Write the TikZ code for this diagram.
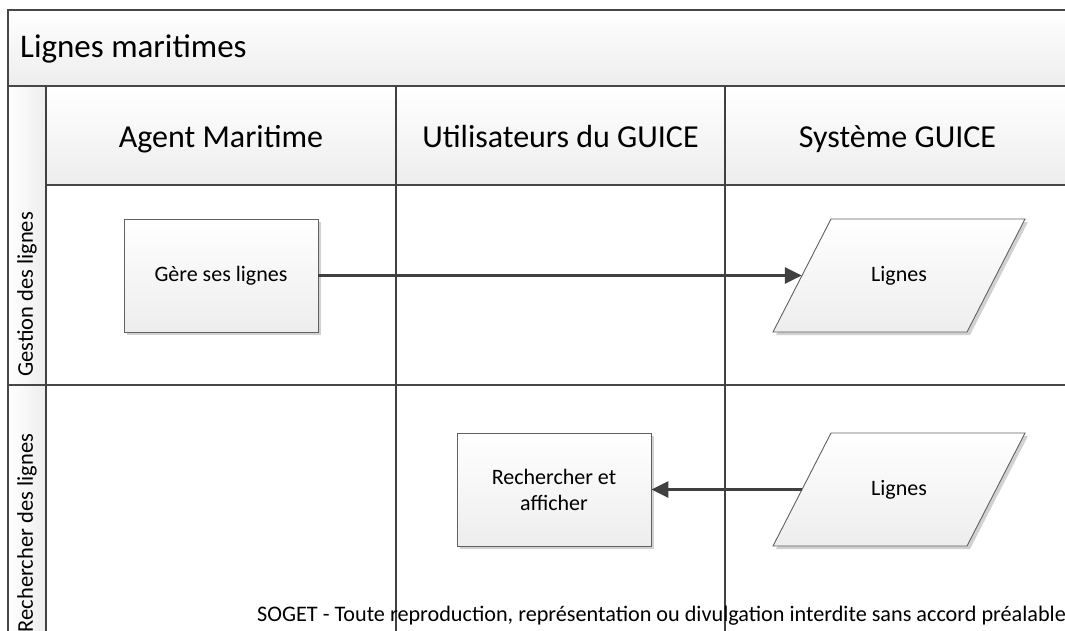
\documentclass[tikz,border=0pt]{standalone}
\usepackage{fontspec}
\setmainfont{Carlito}
\usetikzlibrary{shadows,arrows.meta}
\begin{document}
\begin{tikzpicture}[x=1pt,y=-1pt,
  frameline/.style={draw=black!72,line width=1.6pt},
  laneline/.style={draw=black!75,line width=1.8pt},
  barfill/.style={top color=white,bottom color=black!7},
  sidefill/.style={left color=white,right color=black!7},
  shade/.style={drop shadow={shadow xshift=3pt,shadow yshift=-3pt,fill=black!18,opacity=1}},
  shapeface/.style={draw=black!62,line width=0.9pt,top color=white,bottom color=black!7,shade},
  procbox/.style={rectangle,shapeface,
    minimum width=194pt,minimum height=113pt,inner sep=2pt,align=center,
    font=\fontsize{22}{26}\selectfont},
  % body of a data shape: the slanted outline is drawn around it
  databody/.style={rectangle,minimum width=194pt,minimum height=113pt,inner sep=0pt,
    font=\fontsize{22}{26}\selectfont},
  flow/.style={draw=black!75,line width=2.6pt,-{Triangle[length=17pt,width=16pt]}},
  lanelabel/.style={rotate=90,font=\fontsize{22.5}{27}\selectfont},
  colhead/.style={font=\fontsize{32}{38}\selectfont,anchor=base}
]
\useasboundingbox (0,0) rectangle (1065,630);
\fill[white] (0,0) rectangle (1065,630);

% pool: title bar, column headers, lane label strip
\fill[barfill] (8,10) rectangle (1070,86);
\fill[barfill] (46,86) rectangle (1070,185);
\fill[sidefill] (8,86) rectangle (46,671);

\draw[frameline] (1070,10) -- (8,10) -- (8,671);
\draw[frameline] (8,86) -- (1070,86);
\draw[frameline] (46,185) -- (1070,185);
\draw[frameline] (8,385) -- (1070,385);
\draw[laneline] (46,86) -- (46,671);
\draw[laneline] (396,86) -- (396,671);
\draw[laneline] (725,86) -- (725,671);

\node[anchor=base west,font=\fontsize{33}{40}\selectfont,inner sep=0] (title) at (20,57) {Lignes maritimes};
\node[colhead] (h1) at (221,147) {Agent Maritime};
\node[colhead] (h2) at (560.5,147) {Utilisateurs du GUICE};
\node[colhead] (h3) at (897.5,147) {Système GUICE};

\node[lanelabel] (l1) at (27,294.5) {Gestion des lignes};
\node[lanelabel] (l2) at (27,533) {Rechercher des lignes};

% process boxes
\node[procbox] (gere) at (221,275.5) {Gère ses lignes};
\node[procbox] (rech) at (554,489.5) {Rechercher et\\afficher};

% data shapes (parallelograms)
\foreach \yy in {275.5,489.5}{
  \path[shapeface] (899-194/2+29,\yy-113/2) -- (899+194/2+29,\yy-113/2)
    -- (899+194/2-29,\yy+113/2) -- (899-194/2-29,\yy+113/2) -- cycle;
}
\node[databody] (lg1) at (899,275.5) {Lignes};
\node[databody] (lg2) at (899,489.5) {Lignes};

\draw[flow] (gere.east) -- (lg1.west);
\draw[flow] (lg2.west) -- (rech.east);

\node[anchor=base west,font=\fontsize{22.2}{26}\selectfont,inner sep=0] (note) at (257,621)
  {SOGET - Toute reproduction, représentation ou divulgation interdite sans accord préalable};
\end{tikzpicture}
\end{document}
